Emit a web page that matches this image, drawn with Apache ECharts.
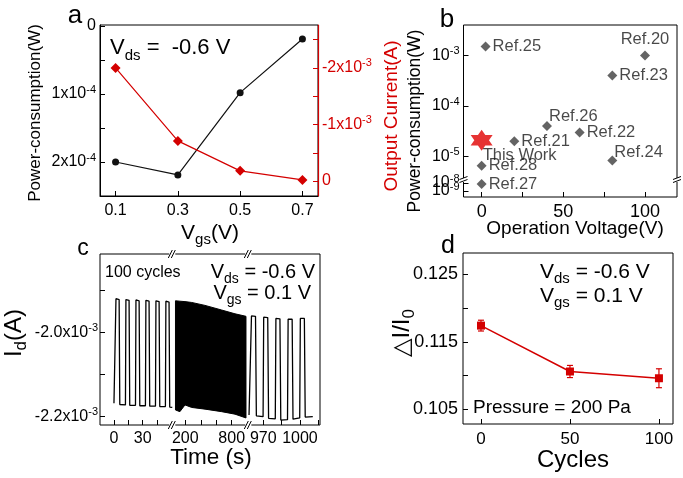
<!DOCTYPE html>
<html><head><meta charset="utf-8">
<script src="https://cdn.jsdelivr.net/npm/echarts@6/dist/echarts.min.js"></script>
<style>html,body{margin:0;padding:0;background:#fff}#c{width:683px;height:478px}</style>
</head><body><div id="c"></div>
<script>
// ---------- Panel a ----------
const vgs = [0.1, 0.3, 0.5, 0.7];
const powerE4 = [2.0, 2.19, 0.98, 0.19];        // x1e-4 W
const currentE3 = [-2.0, -0.71, -0.18, -0.02];  // x1e-3 A
// ---------- Panel b ----------
const refNames = ['Ref.25', 'Ref.20', 'Ref.23', 'Ref.26', 'Ref.22', 'Ref.21', 'Ref.24', 'Ref.28'];
const refVoltage = [2.4, 100, 80, 40, 60, 20, 80, 0];
const refPower = [1.5e-3, 1e-3, 4e-4, 4e-5, 3e-5, 2e-5, 8.3e-6, 6.6e-6];
const lowRefNames = ['Ref.27'];
const lowRefVoltage = [0];
const lowRefPower = [7.5e-9];
const thisWorkName = ['This Work'];
const thisWorkVoltage = [0];
const thisWorkPower = [2.1e-5];
// ---------- Panel c (Id in units of 1e-3 A) ----------
const seg1Time = [0, 1.6, 2.1, 5.4, 6.1, 12.0, 12.5, 15.8, 16.5, 22.5, 23.0, 26.3, 27.0, 32.9, 33.4, 36.7, 37.4, 43.4, 43.9, 47.2, 47.9, 53.8, 54.3, 57.6, 58.3, 61];
const seg1Id = [-2.168, -2.170, -1.919, -1.921, -2.171, -2.172, -1.921, -1.923, -2.173, -2.173, -1.922, -1.924, -2.174, -2.174, -1.923, -1.925, -2.175, -2.175, -1.924, -1.926, -2.176, -2.176, -1.925, -1.927, -2.177, -2.178];
const seg2Time = [73, 130, 196, 283, 455, 670, 843, 985];
const seg2Upper = [-1.924, -1.925, -1.926, -1.928, -1.935, -1.946, -1.955, -1.961];
const seg2Lower = [-2.184, -2.188, -2.172, -2.178, -2.182, -2.188, -2.194, -2.203];
const seg3Time = [958.3, 959.8, 960.3, 963.6, 964.3, 969.8, 970.3, 973.6, 974.3, 979.8, 980.3, 983.6, 984.3, 989.8, 990.3, 993.6, 994.3, 999.8, 1000.3, 1003.6, 1004.3, 1010.5];
const seg3Id = [-2.196, -2.196, -1.960, -1.961, -2.198, -2.200, -1.963, -1.964, -2.204, -2.205, -1.966, -1.967, -2.208, -2.207, -1.968, -1.968, -2.206, -2.203, -1.966, -1.966, -2.201, -2.200];
// ---------- Panel d ----------
const cycles = [0, 50, 100];
const deltaI = [0.1174, 0.1106, 0.1096];
const deltaErr = [0.0008, 0.0009, 0.0014];

const F = "'Liberation Sans', Arial, Helvetica, sans-serif";
const RED = '#d40000';
const zip = (a, b) => a.map((v, i) => [v, b[i]]);
const sup = (c) => ({fontSize: 11, lineHeight: 11, verticalAlign: 'top', fontFamily: F, color: c || '#000'});

const chart = echarts.init(document.getElementById('c'), null, {renderer: 'canvas'});

function tick(vals, color) {
  return {show: true, inside: true, length: 5, customValues: vals, lineStyle: {color: color || '#000', width: 1}};
}
const NOLINE = {show: false, onZero: false};
function hiddenAxis(g) { return {gridIndex: g, type: 'value', show: false, min: 0, max: 1, axisLine: NOLINE}; }

const G = (o) => Object.assign({outerBoundsMode: 'none', containLabel: false}, o);
const grids = [
  G({left: 100, top: 25, width: 218, height: 171, show: true, borderColor: '#000', borderWidth: 1}),        // 0 a
  G({left: 463.5, top: 25, width: 213.5, height: 172, show: true, borderColor: '#000', borderWidth: 1}),    // 1 b frame
  G({left: 463.5, top: 25, width: 213.5, height: 155}),                                                   // 2 b upper
  G({left: 463.5, top: 181, width: 213.5, height: 16}),                                                   // 3 b lower
  G({left: 100, top: 254, width: 220, height: 171, show: true, borderColor: '#000', borderWidth: 1}),       // 4 c frame
  G({left: 100, top: 254, width: 72.3, height: 171}),                                                     // 5 c seg1
  G({left: 172.3, top: 254, width: 76, height: 171}),                                                     // 6 c seg2
  G({left: 248.3, top: 254, width: 71.7, height: 171}),                                                   // 7 c seg3
  G({left: 463, top: 253, width: 210, height: 171, show: true, borderColor: '#000', borderWidth: 1})        // 8 d
];

const xLabel = (vals, fmt, size, margin) => ({customValues: vals, formatter: fmt, fontSize: size, color: '#000', fontFamily: F, margin: margin, hideOverlap: false});

const xAxes = [
  {gridIndex: 0, type: 'value', min: 0.05, max: 0.75, splitLine: {show: false},
   axisLine: {show: true, onZero: false, lineStyle: {color: '#000'}}, axisTick: tick([0.1, 0.3, 0.5, 0.7]),
   axisLabel: xLabel([0.1, 0.3, 0.5, 0.7], v => v.toFixed(1), 16, 7)},
  hiddenAxis(1),
  {gridIndex: 2, type: 'value', min: -11.1, max: 119.6, show: false, axisLine: NOLINE},
  {gridIndex: 3, type: 'value', min: -11.1, max: 119.6, splitLine: {show: false},
   axisLine: NOLINE, axisTick: tick([0, 25, 50, 75, 100]),
   axisLabel: xLabel([0, 50, 100], v => String(v), 18, 6)},
  hiddenAxis(4),
  {gridIndex: 5, type: 'value', min: -14.6, max: 61, splitLine: {show: false}, axisLine: NOLINE,
   axisTick: tick([0, 15, 30, 45]), axisLabel: xLabel([0, 30], v => String(v), 16, 6)},
  {gridIndex: 6, type: 'value', min: 32, max: 1015, splitLine: {show: false}, axisLine: NOLINE,
   axisTick: tick([200, 400, 600, 800]), axisLabel: xLabel([200, 800], v => String(v), 16, 6)},
  {gridIndex: 7, type: 'value', min: 957.7, max: 1016.4, splitLine: {show: false}, axisLine: NOLINE,
   axisTick: tick([970, 985, 1000, 1015]), axisLabel: xLabel([970, 1000], v => String(v), 16, 6)},
  {gridIndex: 8, type: 'value', min: -10.1, max: 107.9, splitLine: {show: false}, axisLine: NOLINE,
   axisTick: tick([0, 50, 100]), axisLabel: xLabel([0, 50, 100], v => String(v), 17, 7)}
];

const logFmt = v => '10{sup|' + Math.round(Math.log10(v)) + '}';
const yLabel = (vals, fmt, size, margin, color) => ({customValues: vals, formatter: fmt, fontSize: size, lineHeight: 20,
  color: color || '#000', fontFamily: F, margin: margin, hideOverlap: false, rich: {sup: sup(color)}});

const LOW_MIN = Math.pow(10, -9.75), LOW_MAX = Math.pow(10, -7.75);
const yAxes = [
  {gridIndex: 0, type: 'value', inverse: true, min: -0.015, max: 2.5, position: 'left', splitLine: {show: false},
   axisLine: {show: true, onZero: false, lineStyle: {color: '#000'}}, axisTick: tick([0, 0.5, 1, 1.5, 2]),
   axisLabel: yLabel([0, 1, 2], v => v === 0 ? '0' : (v + 'x10{sup|-4}'), 16, 4)},
  hiddenAxis(1),
  {gridIndex: 2, type: 'log', logBase: 10, position: 'left', min: Math.pow(10, -5.465), max: Math.pow(10, -2.396), splitLine: {show: false},
   axisLine: NOLINE, axisTick: tick([1e-5, 1e-4, 1e-3]),
   axisLabel: yLabel([1e-5, 1e-4, 1e-3], logFmt, 16, 4)},
  {gridIndex: 3, type: 'log', logBase: 10, position: 'left', min: LOW_MIN, max: LOW_MAX, splitLine: {show: false},
   axisLine: NOLINE, axisTick: tick([1e-9, 1e-8]),
   axisLabel: yLabel([1e-8], logFmt, 16, 4)},
  hiddenAxis(4),
  {gridIndex: 5, type: 'value', position: 'left', min: -2.2198, max: -1.8126, splitLine: {show: false}, axisLine: NOLINE,
   axisTick: tick([-2.2, -2.1, -2.0, -1.9]),
   axisLabel: yLabel([-2.2, -2.0], v => v.toFixed(1) + 'x10{sup|-3}', 16, 2)},
  {gridIndex: 6, type: 'value', min: -2.2198, max: -1.8126, show: false, axisLine: NOLINE},
  {gridIndex: 7, type: 'value', min: -2.2198, max: -1.8126, show: false, axisLine: NOLINE},
  {gridIndex: 8, type: 'value', position: 'left', min: 0.10282, max: 0.12816, splitLine: {show: false}, axisLine: NOLINE,
   axisTick: tick([0.105, 0.11, 0.115, 0.12, 0.125]),
   axisLabel: {customValues: [0.105, 0.115, 0.125], formatter: v => v.toFixed(3), fontSize: 18, color: '#000', fontFamily: F, margin: 5}},
  {gridIndex: 0, type: 'value', inverse: true, min: -2.76, max: 0.265, position: 'right', splitLine: {show: false},
   axisLine: {show: true, onZero: false, lineStyle: {color: RED, width: 1.2}}, axisTick: tick([-2.5, -2, -1.5, -1, -0.5, 0], RED),
   axisLabel: yLabel([-2, -1, 0], v => v === 0 ? '0' : (v + 'x10{sup|-3}'), 16, 4, RED)},
  // second label axis for the lower broken part of panel b (10^-9)
  {gridIndex: 3, type: 'log', logBase: 10, position: 'left', offset: 0, min: LOW_MIN, max: LOW_MAX, splitLine: {show: false},
   axisLine: NOLINE, axisTick: {show: false},
   axisLabel: yLabel([1e-9], logFmt, 16, 4)}
];

const refLabelStyle = {
  'Ref.25': {position: 'right', distance: 2},
  'Ref.20': {position: 'top', distance: 3},
  'Ref.23': {position: 'right', distance: 2},
  'Ref.26': {position: 'right', distance: 2, offset: [-5, -10]},
  'Ref.22': {position: 'right', distance: 2},
  'Ref.21': {position: 'right', distance: 2},
  'Ref.24': {position: 'right', distance: 2, offset: [-5, -8]},
  'Ref.28': {position: 'right', distance: 2}
};
const LBL = {show: true, formatter: '{b}', fontSize: 16.5, color: '#1a1a1a', fontFamily: F};
const refData = refNames.map((n, i) => ({name: n, value: [refVoltage[i], refPower[i]], label: Object.assign({}, LBL, refLabelStyle[n])}));

const STAR = 'path://M0,-10L2.89,-5L8.66,-5L5.77,0L8.66,5L2.89,5L0,10L-2.89,5L-8.66,5L-5.77,0L-8.66,-5L-2.89,-5Z';

const bandData = seg2Time.map((t, i) => [t, seg2Lower[i], seg2Upper[i]]);

const series = [
  {type: 'line', xAxisIndex: 0, yAxisIndex: 0, data: zip(vgs, powerE4), symbol: 'circle', symbolSize: 7,
   itemStyle: {color: '#111'}, lineStyle: {color: '#111', width: 1.2}},
  {type: 'line', xAxisIndex: 0, yAxisIndex: 9, data: zip(vgs, currentE3), symbol: 'diamond', symbolSize: 10,
   itemStyle: {color: RED}, lineStyle: {color: RED, width: 1.2}},
  {type: 'scatter', xAxisIndex: 2, yAxisIndex: 2, data: refData, symbol: 'diamond', symbolSize: 10,
   itemStyle: {color: '#3d3d3d'}},
  {type: 'scatter', xAxisIndex: 2, yAxisIndex: 2,
   data: thisWorkName.map((n, i) => ({name: n, value: [thisWorkVoltage[i], thisWorkPower[i]]})),
   symbol: STAR, symbolSize: [22, 21], itemStyle: {color: '#e00000'}, z: 5,
   label: Object.assign({}, LBL, {position: 'right', distance: 2, offset: [-12, 15]})},
  {type: 'scatter', xAxisIndex: 3, yAxisIndex: 3,
   data: lowRefNames.map((n, i) => ({name: n, value: [lowRefVoltage[i], lowRefPower[i]]})),
   symbol: 'diamond', symbolSize: 10, itemStyle: {color: '#3d3d3d'}, label: Object.assign({}, LBL, {position: 'right', distance: 2})},
  {type: 'line', xAxisIndex: 5, yAxisIndex: 5, data: zip(seg1Time, seg1Id), symbol: 'none',
   lineStyle: {color: '#000', width: 1.3}},
  {type: 'custom', xAxisIndex: 6, yAxisIndex: 6, data: bandData,
   renderItem: (params, api) => {
     if (params.dataIndex !== 0) return null;
     const up = bandData.map(d => api.coord([d[0], d[2]]));
     const lo = bandData.map(d => api.coord([d[0], d[1]])).reverse();
     return {type: 'polygon', shape: {points: up.concat(lo)}, style: {fill: '#000', stroke: '#000', lineWidth: 1}};
   }},
  {type: 'line', xAxisIndex: 7, yAxisIndex: 7, data: zip(seg3Time, seg3Id), symbol: 'none',
   lineStyle: {color: '#000', width: 1.3}},
  {type: 'line', xAxisIndex: 8, yAxisIndex: 8, data: zip(cycles, deltaI), symbol: 'rect', symbolSize: 8,
   itemStyle: {color: RED}, lineStyle: {color: RED, width: 1.5}, z: 4},
  {type: 'custom', xAxisIndex: 8, yAxisIndex: 8, data: cycles.map((c, i) => [c, deltaI[i], deltaErr[i]]), z: 3,
   renderItem: (params, api) => {
     const x = api.value(0), y = api.value(1), e = api.value(2);
     const t = api.coord([x, y + e]), b = api.coord([x, y - e]);
     const st = {stroke: RED, lineWidth: 1.2};
     return {type: 'group', children: [
       {type: 'line', shape: {x1: t[0], y1: t[1], x2: b[0], y2: b[1]}, style: st},
       {type: 'line', shape: {x1: t[0] - 3, y1: t[1], x2: t[0] + 3, y2: t[1]}, style: st},
       {type: 'line', shape: {x1: b[0] - 3, y1: b[1], x2: b[0] + 3, y2: b[1]}, style: st}
     ]};
   }}
];

// ---------- text & decorations ----------
const SUB = (s) => ({fontSize: s, lineHeight: s, verticalAlign: 'bottom', fontFamily: F});
function txt(x, y, text, size, o) {
  o = o || {};
  return {type: 'text', x: x, y: y, rotation: o.rot || 0, z: 100,
    style: {text: text, fontSize: size, fontFamily: F, fill: o.color || '#000', align: o.align || 'center',
      verticalAlign: 'middle', lineHeight: o.lh || size, rich: o.rich || {}}};
}
function vdsRich(size, subSize) {
  return {v: {fontSize: size, lineHeight: size + 8, fontFamily: F}, s: SUB(subSize)};
}
function breakH(x, y) {
  return [
    {type: 'rect', z: 100, shape: {x: x - 3, y: y - 2, width: 6, height: 4}, style: {fill: '#fff'}},
    {type: 'line', z: 101, shape: {x1: x - 4, y1: y + 4, x2: x, y2: y - 4}, style: {stroke: '#000', lineWidth: 1}},
    {type: 'line', z: 101, shape: {x1: x - 1, y1: y + 4, x2: x + 3, y2: y - 4}, style: {stroke: '#000', lineWidth: 1}}
  ];
}
function breakV(x, y) {
  return [
    {type: 'rect', z: 100, shape: {x: x - 2, y: y - 2, width: 4, height: 4}, style: {fill: '#fff'}},
    {type: 'line', z: 101, shape: {x1: x - 4, y1: y - 0.5, x2: x + 4, y2: y - 3.5}, style: {stroke: '#000', lineWidth: 1}},
    {type: 'line', z: 101, shape: {x1: x - 4, y1: y + 2.5, x2: x + 4, y2: y - 0.5}, style: {stroke: '#000', lineWidth: 1}}
  ];
}

const graphics = [
  txt(75, 16, 'a', 26), txt(447, 20, 'b', 26), txt(83, 249, 'c', 23), txt(448, 246, 'd', 25),
  txt(110, 48, '{v|V}{s|ds}{v| =  -0.6 V}', 22, {align: 'left', rich: vdsRich(22, 15)}),
  txt(105, 273, '100 cycles', 16, {align: 'left'}),
  txt(315, 272, '{v|V}{s|ds}{v| = -0.6 V}', 20, {align: 'right', rich: vdsRich(20, 14)}),
  txt(311, 293, '{v|V}{s|gs}{v| = 0.1 V}', 20, {align: 'right', rich: vdsRich(20, 14)}),
  txt(540, 272, '{v|V}{s|ds}{v| = -0.6 V}', 21, {align: 'left', rich: vdsRich(21, 15)}),
  txt(540, 296, '{v|V}{s|gs}{v| = 0.1 V}', 21, {align: 'left', rich: vdsRich(21, 15)}),
  txt(473, 408, 'Pressure = 200 Pa', 19, {align: 'left'}),
  txt(35, 113, 'Power-consumption(W)', 17, {rot: Math.PI / 2}),
  txt(392, 116, 'Output Current(A)', 19, {rot: Math.PI / 2, color: RED}),
  txt(210, 233, '{v|V}{s|gs}{v|(V)}', 21, {rich: vdsRich(21, 15)}),
  txt(415, 121, 'Power-consumption(W)', 17.5, {rot: Math.PI / 2}),
  txt(575, 229, 'Operation Voltage(V)', 19),
  txt(14, 333, '{v|I}{s|d}{v|(A)}', 24, {rot: Math.PI / 2, rich: vdsRich(24, 17)}),
  txt(211, 458, 'Time (s)', 22.5),
  txt(402, 333, "{v|\u25B3I/I}{s|0}", 24, {rot: Math.PI / 2, rich: {v: {fontSize: 24, lineHeight: 32, fontFamily: "'Liberation Sans','DejaVu Sans',sans-serif"}, s: SUB(17)}}),
  txt(573, 460, 'Cycles', 24)
].concat(breakH(172.3, 254), breakH(248.3, 254), breakH(172.3, 425), breakH(248.3, 425),
         breakV(463.5, 180), breakV(677, 180));

chart.setOption({
  animation: false,
  backgroundColor: '#fff',
  textStyle: {fontFamily: F},
  grid: grids,
  xAxis: xAxes,
  yAxis: yAxes,
  series: series,
  graphic: {elements: graphics}
});
</script>
</body></html>
